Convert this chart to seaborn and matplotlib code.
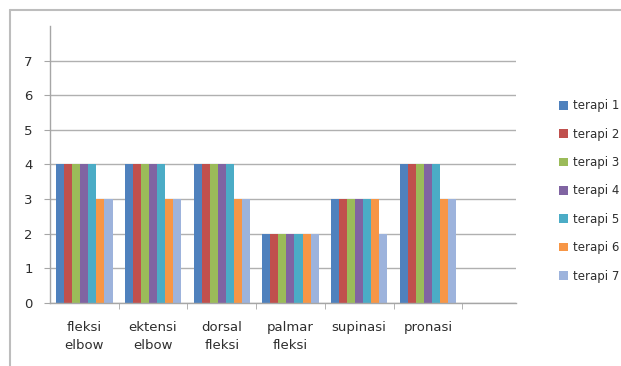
import matplotlib
matplotlib.use("Agg")
import matplotlib.pyplot as plt
from matplotlib.lines import Line2D
from matplotlib.patches import Patch
import pandas as pd
import seaborn as sns

# Movement categories on the x axis (two-line labels)
categories = ["fleksi\nelbow", "ektensi\nelbow", "dorsal\nfleksi",
              "palmar\nfleksi", "supinasi", "pronasi"]

# Scores per therapy session, one value per category
terapi_1 = [4, 4, 4, 2, 3, 4]
terapi_2 = [4, 4, 4, 2, 3, 4]
terapi_3 = [4, 4, 4, 2, 3, 4]
terapi_4 = [4, 4, 4, 2, 3, 4]
terapi_5 = [4, 4, 4, 2, 3, 4]
terapi_6 = [3, 3, 3, 2, 3, 3]
terapi_7 = [3, 3, 3, 2, 2, 3]

series_names = ["terapi 1", "terapi 2", "terapi 3", "terapi 4",
                "terapi 5", "terapi 6", "terapi 7"]
series_values = [terapi_1, terapi_2, terapi_3, terapi_4,
                 terapi_5, terapi_6, terapi_7]
y_ticks = [0, 1, 2, 3, 4, 5, 6, 7]

colors = ["#4F81BD", "#C0504D", "#9BBB59", "#8064A2",
          "#4BACC6", "#F79646", "#9DB3DC"]

rows = []
for name, vals in zip(series_names, series_values):
    for cat, v in zip(categories, vals):
        rows.append({"kategori": cat, "terapi": name, "nilai": v})
df = pd.DataFrame(rows)

sns.set_style("white")
plt.rcParams["font.family"] = ["DejaVu Sans"]

W, H = 621, 366
fig = plt.figure(figsize=(W / 100, H / 100), dpi=100)
ax = fig.add_axes([50 / W, 1 - 302.7 / H, (516 - 50) / W, (302.7 - 26) / H])

sns.barplot(data=df, x="kategori", y="nilai", hue="terapi",
            order=categories, hue_order=series_names, palette=colors,
            width=0.82, ax=ax, legend=False, saturation=1,
            linewidth=0, errorbar=None)

ax.set_ylim(0, 8)
ax.set_xlim(-0.5, (516 - 50) / 68.7 - 0.5)
ax.set_yticks(y_ticks)
ax.set_yticklabels([str(t) for t in y_ticks])
ax.yaxis.grid(True, color="#B0B0B0", linewidth=1.0)
ax.set_axisbelow(True)
ax.set_xlabel("")
ax.set_ylabel("")

for side in ["top", "right"]:
    ax.spines[side].set_visible(False)
for side in ["left", "bottom"]:
    ax.spines[side].set_color("#A6A6A6")
    ax.spines[side].set_linewidth(1.0)

text_color = "#2E2E2E"

# category labels centred in each slot, tick marks on slot boundaries
ax.set_xticks(range(len(categories)))
ax.set_xticklabels(categories, linespacing=1.55)
ax.set_xticks([i + 0.5 for i in range(len(categories))], minor=True)
ax.tick_params(axis="x", which="major", length=0, pad=13,
               labelsize=9.5, labelcolor=text_color)
ax.tick_params(axis="x", which="minor", length=4, color="#A6A6A6",
               direction="out", bottom=True)
ax.tick_params(axis="y", length=4.5, color="#A6A6A6", direction="out",
               left=True, pad=8, labelsize=9.5, labelcolor=text_color)

handles = [Patch(facecolor=c, edgecolor="none") for c in colors]
fig.legend(handles, series_names, loc="center left",
           bbox_to_anchor=(553 / W, 1 - 191 / H), frameon=False,
           fontsize=8.5, handlelength=0.75, handleheight=0.75,
           handletextpad=0.45, labelspacing=1.3, borderpad=0,
           labelcolor=text_color)

# outer chart frame
frame_kw = dict(color="#BDBDBD", linewidth=1.5, transform=fig.transFigure)
fig.add_artist(Line2D([10 / W, 1], [1 - 10 / H, 1 - 10 / H], **frame_kw))
fig.add_artist(Line2D([10 / W, 10 / W], [0, 1 - 10 / H], **frame_kw))

fig.savefig("out.png", dpi=100)
